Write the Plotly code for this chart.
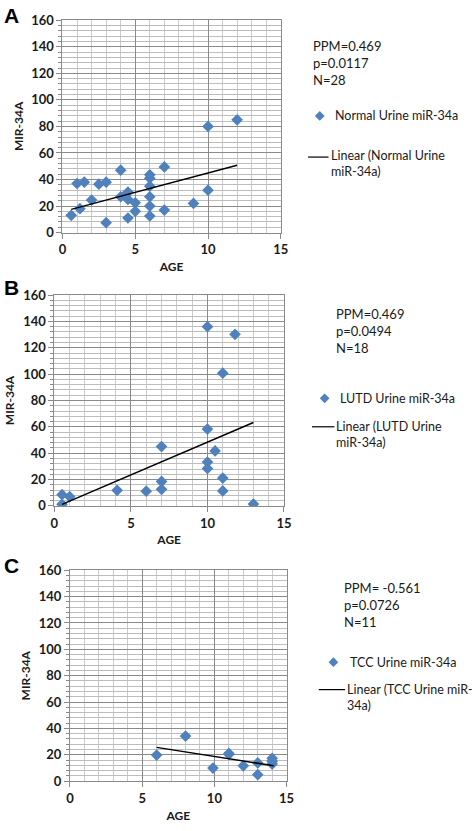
import plotly.graph_objects as go

W, H = 472, 831

# ---------------- data ----------------
a_age = [0.6, 1.0, 1.2, 1.5, 2.0, 2.5, 3.0, 3.0, 4.0, 4.0, 4.5, 4.5, 4.5, 4.3,
         5.0, 5.0, 6.0, 6.0, 6.0, 6.0, 6.0, 6.0, 7.0, 7.0, 9.0, 10.0, 10.0, 12.0]
a_mir = [13, 37, 18, 38, 24.5, 36.5, 38, 7.5, 47, 27, 30.5, 25, 11, 28,
         22.5, 16, 43.5, 41, 35, 27, 20, 12.5, 49.5, 17, 22, 80, 32, 85]
a_trend_x = [0.6, 12.0]
a_trend_y = [17.5, 50.8]

b_age = [0.5, 0.5, 1.0, 4.1, 6.0, 7.0, 7.0, 7.0, 10.0, 10.0, 10.0, 10.0,
         10.5, 11.0, 11.0, 11.0, 11.8, 13.0]
b_mir = [8.5, 1.2, 7, 11.8, 11.2, 45, 18.6, 12.6, 136, 58.3, 33.3, 28.4,
         41.7, 100.7, 21.1, 11.4, 130.2, 1.4]
b_trend_x = [0.5, 13.0]
b_trend_y = [1.2, 63.3]

c_age = [6.0, 8.0, 9.9, 11.0, 11.0, 12.0, 13.0, 13.0, 14.0, 14.0, 14.0]
c_mir = [19.8, 34.2, 9.9, 20.3, 21.0, 11.6, 13.8, 4.9, 17.3, 12.9, 15.0]
c_trend_x = [6.0, 14.1]
c_trend_y = [25.6, 11.7]

x_ticks = [0, 5, 10, 15]
y_ticks = [0, 20, 40, 60, 80, 100, 120, 140, 160]

panels = [
    dict(letter="A", age=a_age, mir=a_mir, tx=a_trend_x, ty=a_trend_y,
         stats=["PPM=0.469", "p=0.0117", "N=28"],
         series="Normal Urine miR-34a",
         lin=["Linear (Normal Urine", "miR-34a)"]),
    dict(letter="B", age=b_age, mir=b_mir, tx=b_trend_x, ty=b_trend_y,
         stats=["PPM=0.469", "p=0.0494", "N=18"],
         series="LUTD Urine miR-34a",
         lin=["Linear (LUTD Urine", "miR-34a)"]),
    dict(letter="C", age=c_age, mir=c_mir, tx=c_trend_x, ty=c_trend_y,
         stats=["PPM= -0.561", "p=0.0726", "N=11"],
         series="TCC Urine miR-34a",
         lin=["Linear (TCC Urine miR-", "34a)"]),
]

# ---------------- layout geometry (pixels) ----------------
geom = [
    dict(x0=60, x1=284, top=12.5, bot=229, letter=(8, 8),
         stat_x=317, stat_y=56, dia=(324, 110), ser_x=340,
         line=(312, 333, 152), lin_x=335, lin_y=159),
    dict(x0=51.7, x1=287.3, top=292.7, bot=507.7, letter=(8, 285),
         stat_x=341, stat_y=329, dia=(329, 398), ser_x=345,
         line=(316, 339, 427), lin_x=341, lin_y=435),
    dict(x0=67.7, x1=290, top=573.3, bot=788.3, letter=(8, 568),
         stat_x=349, stat_y=609, dia=(338, 667), ser_x=355,
         line=(323, 350, 695), lin_x=352, lin_y=703),
]

def px(x):
    return x / W

def py(y):
    return 1 - y / H

BLUE = "#4F81BD"
MAJ = "#8a8a8a"
MIN_X = "#cbcbcb"
MIN_Y = "#bdbdbd"
TXT = "#1a1a1a"
FONT = "Lato, 'Open Sans', sans-serif"
PAD = 2  # annotation inner padding offset

fig = go.Figure()
annotations = []
shapes = []

for i, (p, g) in enumerate(zip(panels, geom)):
    n = "" if i == 0 else str(i + 1)
    xa, ya = "x" + n, "y" + n
    fig.add_trace(go.Scatter(
        x=p["age"], y=p["mir"], mode="markers", xaxis=xa, yaxis=ya,
        marker=dict(symbol="diamond", size=9, color=BLUE, line=dict(width=0)),
        showlegend=False, name=p["series"]))
    fig.add_trace(go.Scatter(
        x=p["tx"], y=p["ty"], mode="lines", xaxis=xa, yaxis=ya,
        line=dict(color="black", width=1.5), showlegend=False,
        name=" ".join(p["lin"])))

    axfont = dict(family=FONT, size=13, color=TXT, weight="bold")
    fig.layout["xaxis" + n] = dict(
        domain=[px(g["x0"]), px(g["x1"])], anchor=ya, range=[0, 15],
        tickvals=x_ticks, ticks="outside", ticklen=5, tickcolor=MAJ,
        showgrid=True, gridcolor=MAJ, gridwidth=1,
        minor=dict(dtick=1, showgrid=True, gridcolor=MIN_X, gridwidth=1, ticks=""),
        showline=True, linecolor=MAJ, linewidth=1, mirror=True,
        zeroline=False, tickfont=axfont,
        title=dict(text="AGE", font=dict(family=FONT, size=12, color=TXT, weight="bold"),
                   standoff=6),
        fixedrange=True)
    fig.layout["yaxis" + n] = dict(
        domain=[py(g["bot"]), py(g["top"])], anchor=xa, range=[0, 160],
        tickvals=y_ticks, ticks="outside", ticklen=5, tickcolor=MAJ,
        showgrid=True, gridcolor=MAJ, gridwidth=1,
        minor=dict(dtick=4, showgrid=True, gridcolor=MIN_Y, gridwidth=1,
                   ticks="outside", ticklen=3, tickcolor=MAJ),
        showline=True, linecolor=MAJ, linewidth=1, mirror=True,
        zeroline=False, tickfont=axfont,
        title=dict(text="MIR-34A", font=dict(family=FONT, size=12, color=TXT, weight="bold"),
                   standoff=5),
        fixedrange=True)

    # panel letter
    annotations.append(dict(
        text=p["letter"], x=px(g["letter"][0]), y=py(g["letter"][1]),
        xref="paper", yref="paper", xanchor="center", yanchor="middle", showarrow=False,
        font=dict(family="Liberation Sans, Arial", size=21, color="black", weight="bold")))

    # stats text
    annotations.append(dict(
        text="<br>".join(p["stats"]), x=px(g["stat_x"] - PAD), y=py(g["stat_y"]),
        xref="paper", yref="paper", align="left",
        xanchor="left", yanchor="middle", showarrow=False,
        font=dict(family=FONT, size=13, color=TXT)))

    # legend: diamond + series name
    dx, dy = g["dia"]
    r = 5
    shapes.append(dict(
        type="path", xref="paper", yref="paper",
        path=f"M {px(dx - r)} {py(dy)} L {px(dx)} {py(dy - r)} L {px(dx + r)} {py(dy)} L {px(dx)} {py(dy + r)} Z",
        fillcolor=BLUE, line=dict(width=0)))
    annotations.append(dict(
        text=p["series"], x=px(g["ser_x"] - PAD), y=py(dy), xref="paper", yref="paper",
        xanchor="left", yanchor="middle", showarrow=False,
        font=dict(family=FONT, size=12.5, color=TXT)))

    # legend: line + linear label
    lx0, lx1, ly = g["line"]
    shapes.append(dict(type="line", xref="paper", yref="paper",
                       x0=px(lx0), x1=px(lx1), y0=py(ly), y1=py(ly),
                       line=dict(color="black", width=1.2)))
    annotations.append(dict(
        text="<br>".join(p["lin"]), x=px(g["lin_x"] - PAD), y=py(g["lin_y"]),
        xref="paper", yref="paper", align="left",
        xanchor="left", yanchor="middle", showarrow=False,
        font=dict(family=FONT, size=12.5, color=TXT)))

fig.update_layout(
    width=W, height=H, margin=dict(l=0, r=0, t=0, b=0),
    paper_bgcolor="white", plot_bgcolor="white",
    annotations=annotations, shapes=shapes, showlegend=False,
    font=dict(family=FONT, color=TXT),
)

fig.write_html("out.html", config={"displayModeBar": False},
               post_script="document.body.style.margin='0';document.body.style.overflow='hidden';")
